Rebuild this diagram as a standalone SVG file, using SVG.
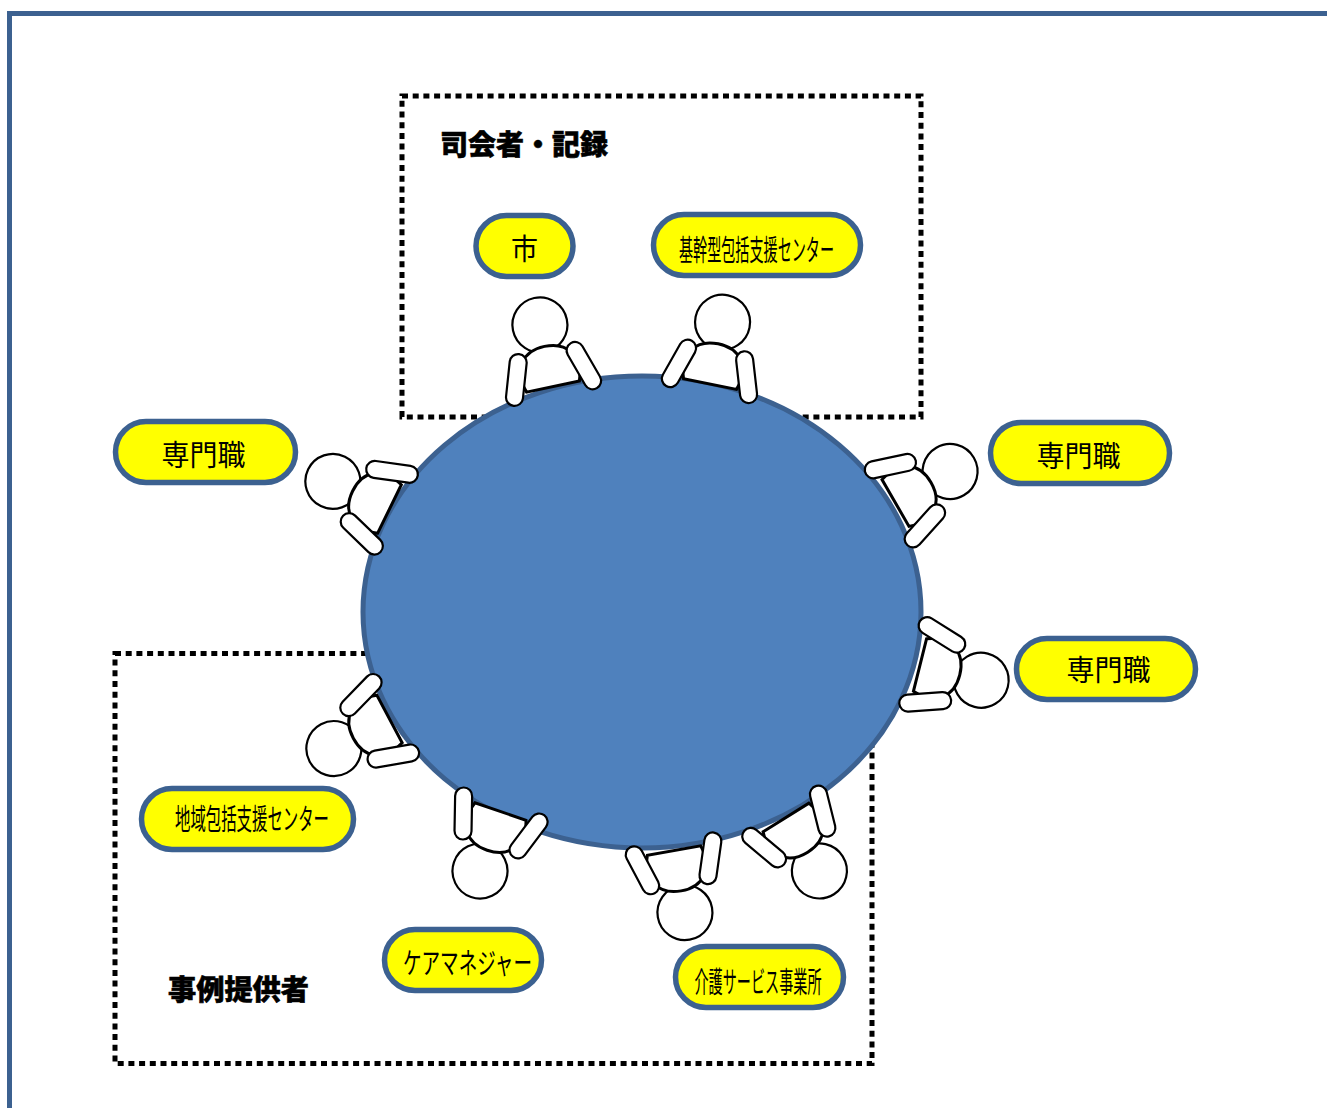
<svg xmlns="http://www.w3.org/2000/svg" width="1327" height="1108" viewBox="0 0 1327 1108">
<style>
.frame{fill:none;stroke:#3c6190;stroke-width:5}
.dot{fill:none;stroke:#000;stroke-width:5;stroke-dasharray:6 4.7}
.table{fill:#4f81bd;stroke:#3c6190;stroke-width:5}
.pill{fill:#ff0;stroke:#3c6190;stroke-width:5.500}
.p{fill:#fff;stroke:#000;stroke-width:2.200}
.b{fill:#fff;stroke:#000;stroke-width:3}
text{font-family:"Noto Sans CJK JP","Noto Sans",sans-serif;fill:#000}
.l{font-size:29px;font-weight:400}
.h{font-size:28px;font-weight:900;stroke:#000;stroke-width:.6}
</style>
<defs>
<g id="person">
<circle class="p" cx="0" cy="-63" r="27.500"/>
<path class="b" d="M-27,0C-36,-25 -22,-41 0,-41C22,-41 36,-25 27,0Z"/>
<rect class="p" x="-8.500" y="-26" width="17" height="52" rx="8.500" transform="translate(-34.500,-14) rotate(18)"/>
<rect class="p" x="-8.500" y="-26" width="17" height="52" rx="8.500" transform="translate(34.500,-14) rotate(-18)"/>
</g>
</defs>
<rect width="1327" height="1108" fill="#fff"/>
<path class="frame" d="M1327,13.500H9.500V1108"/>
<g id="group-boxes">
<rect id="box-chair" class="dot" x="402" y="96" width="519" height="321"/>
<rect id="box-case" class="dot" x="115" y="653.500" width="757" height="410"/>
</g>
<g id="connectors"></g>
<ellipse id="table" class="table" cx="642" cy="612" rx="279" ry="236"/>
<g id="person-1"><use href="#person" transform="translate(553,386.500) rotate(-12)"/></g>
<g id="person-2"><use href="#person" transform="translate(710,384) rotate(11.500)"/></g>
<g id="person-3"><use href="#person" transform="translate(895.500,503) rotate(60)"/></g>
<g id="person-4"><use href="#person" transform="translate(920,665) rotate(104)"/></g>
<g id="person-5"><use href="#person" transform="translate(786,817.500) rotate(148)"/></g>
<g id="person-6"><use href="#person" transform="translate(674,850.500) rotate(170)"/></g>
<g id="person-7"><use href="#person" transform="translate(500.500,811.500) rotate(199)"/></g>
<g id="person-8"><use href="#person" transform="translate(389.500,719) rotate(242)"/></g>
<g id="person-9"><use href="#person" transform="translate(389.500,509) rotate(-64)"/></g>
<g id="node-city"><rect class="pill" x="476" y="215.500" width="97" height="61" rx="30.500"/><text class="l" x="511" y="260" textLength="27" lengthAdjust="spacingAndGlyphs">市</text></g>
<g id="node-core"><rect class="pill" x="653.500" y="214.500" width="207" height="61" rx="30.500"/><text class="l" x="679" y="261" textLength="155" lengthAdjust="spacingAndGlyphs">基幹型包括支援センター</text></g>
<g id="node-pro-1"><rect class="pill" x="115.500" y="421.500" width="180" height="61" rx="30.500"/><text class="l" x="161.500" y="465.500" textLength="84" lengthAdjust="spacingAndGlyphs">専門職</text></g>
<g id="node-pro-2"><rect class="pill" x="990.500" y="422.500" width="179" height="61" rx="30.500"/><text class="l" x="1036.500" y="466.500" textLength="84" lengthAdjust="spacingAndGlyphs">専門職</text></g>
<g id="node-pro-3"><rect class="pill" x="1016.500" y="638.500" width="179" height="61" rx="30.500"/><text class="l" x="1066.500" y="680.500" textLength="84" lengthAdjust="spacingAndGlyphs">専門職</text></g>
<g id="node-regional"><rect class="pill" x="141.500" y="788.500" width="212" height="61" rx="30.500"/><text class="l" x="175" y="830" textLength="154" lengthAdjust="spacingAndGlyphs">地域包括支援センター</text></g>
<g id="node-care"><rect class="pill" x="384.500" y="929.500" width="157" height="61" rx="30.500"/><text class="l" x="403" y="973.500" textLength="129" lengthAdjust="spacingAndGlyphs">ケアマネジャー</text></g>
<g id="node-service"><rect class="pill" x="675.500" y="946.500" width="168" height="61" rx="30.500"/><text class="l" x="694.500" y="992.500" textLength="127" lengthAdjust="spacingAndGlyphs">介護サービス事業所</text></g>
<text id="label-chair" class="h" x="440" y="155" textLength="168" lengthAdjust="spacingAndGlyphs">司会者・記録</text>
<text id="label-case" class="h" x="168" y="999.500" textLength="141" lengthAdjust="spacingAndGlyphs">事例提供者</text>
</svg>
